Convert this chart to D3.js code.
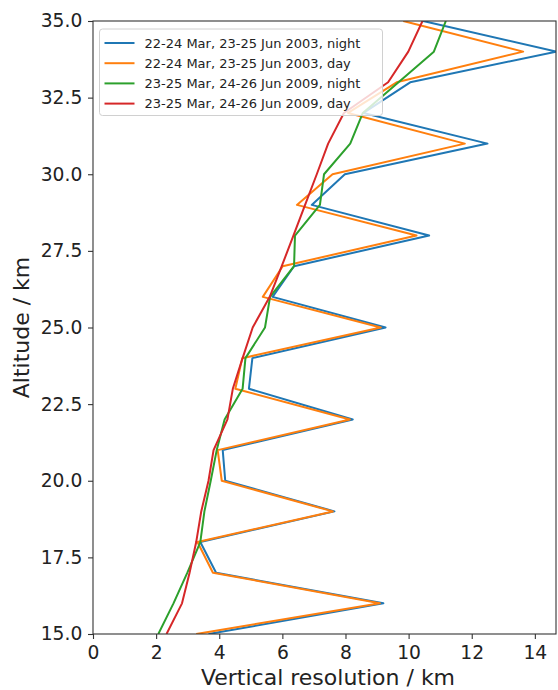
<!DOCTYPE html>
<html>
<head>
<meta charset="utf-8">
<script src="https://cdn.jsdelivr.net/npm/d3@7"></script>
<style>
  body { margin: 0; background: #fff; }
  svg { display: block; font-family: "DejaVu Sans", sans-serif; }
</style>
</head>
<body>
<svg id="chart" width="558" height="690"></svg>
<script>
const altitudes = [15,16,17,18,19,20,21,22,23,24,25,26,27,28,29,30,31,32,33,34,35];
const night2003 = [3.66,9.2,3.9,3.4,7.65,4.19,4.11,8.23,4.94,5.05,9.27,5.69,6.37,10.65,6.93,7.98,12.5,8.57,10.05,14.67,10.46];
const day2003   = [3.27,9.09,3.8,3.31,7.6,4.08,3.95,8.14,4.51,4.73,9.12,5.38,6.01,10.25,6.46,7.59,11.78,8.08,9.62,13.63,9.83];
const night2009 = [2.07,2.55,2.99,3.40,3.53,3.73,3.92,4.17,4.74,4.83,5.45,5.61,6.37,6.40,7.19,7.32,8.15,8.55,9.68,10.8,11.18];
const day2009   = [2.33,2.82,3.06,3.27,3.43,3.66,3.82,4.26,4.43,4.74,5.06,5.6,5.98,6.35,6.72,7.09,7.45,7.95,9.35,9.99,10.44];
const seriesNames = [
  "22-24 Mar, 23-25 Jun 2003, night",
  "22-24 Mar, 23-25 Jun 2003, day",
  "23-25 Mar, 24-26 Jun 2009, night",
  "23-25 Mar, 24-26 Jun 2009, day"
];
const seriesColors = ["#1f77b4", "#ff7f0e", "#2ca02c", "#d62728"];
const xTicks = [0,2,4,6,8,10,12,14];
const yTicks = [15,17.5,20,22.5,25,27.5,30,32.5,35];
const xLabel = "Vertical resolution / km";
const yLabel = "Altitude / km";

const allSeries = [night2003, day2003, night2009, day2009];

const svg = d3.select("#chart");
const m = {left: 93, top: 21, right: 2, bottom: 56};
const W = 558, H = 690;
const iw = W - m.left - m.right, ih = H - m.top - m.bottom;

const xMax = d3.max(allSeries.flat());
const x = d3.scaleLinear().domain([0, xMax]).range([0, iw]);
const y = d3.scaleLinear().domain([15, 35]).range([ih, 0]);

const g = svg.append("g").attr("transform", `translate(${m.left},${m.top})`);

svg.append("defs").append("clipPath").attr("id", "clip")
  .append("rect").attr("width", iw).attr("height", ih);

const line = d3.line().x(d => x(d[0])).y(d => y(d[1]));
const plot = g.append("g").attr("clip-path", "url(#clip)");
allSeries.forEach((s, i) => {
  plot.append("path")
    .datum(s.map((v, j) => [v, altitudes[j]]))
    .attr("fill", "none")
    .attr("stroke", seriesColors[i])
    .attr("stroke-width", 2)
    .attr("stroke-linejoin", "round")
    .attr("d", line);
});

// axes
const xAxis = g.append("g").attr("transform", `translate(0,${ih})`)
  .call(d3.axisBottom(x).tickValues(xTicks).tickFormat(d3.format("d")).tickSize(5).tickPadding(6.5));
const yAxis = g.append("g")
  .call(d3.axisLeft(y).tickValues(yTicks).tickFormat(d3.format(".1f")).tickSize(5).tickPadding(5.7));
[xAxis, yAxis].forEach(a => {
  a.select(".domain").remove();
  a.selectAll("line").attr("stroke", "#333").attr("stroke-width", 1.1);
  a.selectAll("text").attr("font-size", 18.7).attr("fill", "#222").attr("font-family", "DejaVu Sans");
});

// frame
g.append("rect").attr("width", iw).attr("height", ih)
  .attr("fill", "none").attr("stroke", "#333").attr("stroke-width", 1.1);

// labels
svg.append("text").attr("x", 328).attr("y", 685)
  .attr("text-anchor", "middle").attr("font-size", 22).attr("fill", "#222").text(xLabel);
svg.append("text").attr("transform", `translate(28.5,${m.top + ih / 2}) rotate(-90)`)
  .attr("text-anchor", "middle").attr("font-size", 22).attr("fill", "#222").text(yLabel);

// legend
const lg = g.append("g").attr("transform", "translate(6.5,8)");
lg.append("rect").attr("width", 283).attr("height", 86.5).attr("rx", 3)
  .attr("fill", "rgba(255,255,255,0.8)").attr("stroke", "#d0d0d0").attr("stroke-width", 1);
seriesNames.forEach((name, i) => {
  const yy = 14 + i * 20.2;
  lg.append("line").attr("x1", 5).attr("x2", 35).attr("y1", yy).attr("y2", yy)
    .attr("stroke", seriesColors[i]).attr("stroke-width", 2);
  lg.append("text").attr("x", 45).attr("y", yy + 4.7).attr("font-size", 13)
    .attr("fill", "#222").text(name);
});
</script>
</body>
</html>
